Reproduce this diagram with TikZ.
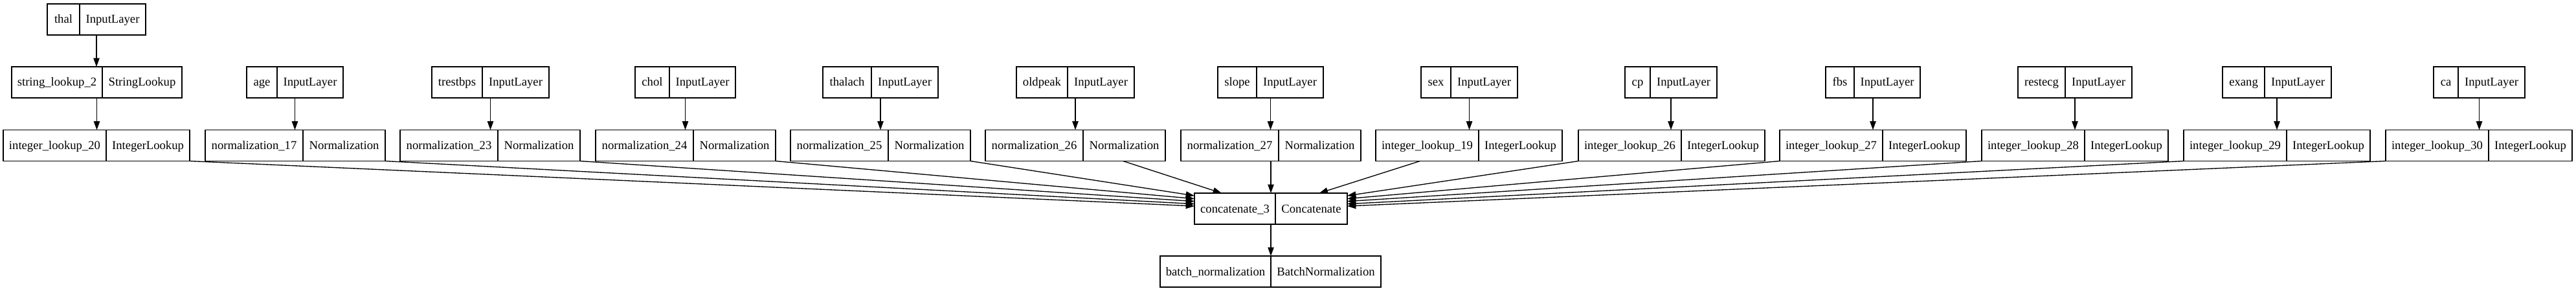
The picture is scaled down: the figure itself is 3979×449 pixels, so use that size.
\documentclass[tikz,border=0pt]{standalone}
\usepackage{fontspec}
\setmainfont{Liberation Serif}
\usetikzlibrary{arrows.meta}
\tikzset{
  recbox/.style={draw=black, line width=1pt, minimum height=36pt, inner sep=0pt, outer sep=0pt},
  recline/.style={draw=black, line width=1pt},
  rectext/.style={inner sep=0pt, anchor=base, font=\fontsize{14pt}{16pt}\selectfont},
  arr/.style={-{Triangle[length=10pt,width=7pt]}, line width=1pt, draw=black},
}
\newcommand{\layerbox}[7]{%
  \pgfmathsetmacro\lbw{(#4-#2)*0.75}%
  \node[recbox, minimum width=\lbw pt] (#1) at ({(#2+#4)/2},#5) {};%
  \draw[recline] (#3,#5-24) -- (#3,#5+24);%
  \node[rectext] (#1-a) at ({(#2+#3)/2},#5+6) {#6};%
  \node[rectext] (#1-b) at ({(#3+#4)/2},#5+6) {#7};%
}
\begin{document}
\begin{tikzpicture}[x=0.75pt, y=-0.75pt]
\fill[white] (0,0) rectangle (3979,449);
\useasboundingbox (0,0) rectangle (3979,449);
% row 1
\layerbox{thal}{73}{123}{225}{30}{thal}{InputLayer}
% row 2
\layerbox{sl2}{18}{158}{281}{127}{string\_lookup\_2}{StringLookup}
\layerbox{age}{381}{428}{530}{127}{age}{InputLayer}
\layerbox{trestbps}{667}{745}{848}{127}{trestbps}{InputLayer}
\layerbox{chol}{981}{1034}{1136}{127}{chol}{InputLayer}
\layerbox{thalach}{1271}{1346}{1449}{127}{thalach}{InputLayer}
\layerbox{oldpeak}{1570}{1649}{1752}{127}{oldpeak}{InputLayer}
\layerbox{slope}{1881}{1941}{2044}{127}{slope}{InputLayer}
\layerbox{sex}{2195}{2241}{2344}{127}{sex}{InputLayer}
\layerbox{cp}{2510}{2549}{2652}{127}{cp}{InputLayer}
\layerbox{fbs}{2820}{2864}{2966}{127}{fbs}{InputLayer}
\layerbox{restecg}{3117}{3190}{3293}{127}{restecg}{InputLayer}
\layerbox{exang}{3433}{3498}{3601}{127}{exang}{InputLayer}
\layerbox{ca}{3759}{3797}{3900}{127}{ca}{InputLayer}
% row 3
\layerbox{il20}{5}{164}{293}{224.5}{integer\_lookup\_20}{IntegerLookup}
\layerbox{n17}{317}{468}{595}{224.5}{normalization\_17}{Normalization}
\layerbox{n23}{618}{769}{896}{224.5}{normalization\_23}{Normalization}
\layerbox{n24}{920}{1071}{1198}{224.5}{normalization\_24}{Normalization}
\layerbox{n25}{1221}{1372}{1499}{224.5}{normalization\_25}{Normalization}
\layerbox{n26}{1522}{1673}{1800}{224.5}{normalization\_26}{Normalization}
\layerbox{n27}{1824}{1975}{2102}{224.5}{normalization\_27}{Normalization}
\layerbox{il19}{2125}{2284}{2413}{224.5}{integer\_lookup\_19}{IntegerLookup}
\layerbox{il26}{2438}{2597}{2726}{224.5}{integer\_lookup\_26}{IntegerLookup}
\layerbox{il27}{2749}{2908}{3037}{224.5}{integer\_lookup\_27}{IntegerLookup}
\layerbox{il28}{3061}{3220}{3349}{224.5}{integer\_lookup\_28}{IntegerLookup}
\layerbox{il29}{3373}{3532}{3661}{224.5}{integer\_lookup\_29}{IntegerLookup}
\layerbox{il30}{3685}{3844}{3973}{224.5}{integer\_lookup\_30}{IntegerLookup}
% row 4, 5
\layerbox{cc}{1845}{1970}{2081}{322}{concatenate\_3}{Concatenate}
\layerbox{bn}{1792}{1963}{2133}{419}{batch\_normalization}{BatchNormalization}
% vertical edges
\draw[arr] (thal.south) -- (thal.south |- sl2.north);
\draw[arr] (sl2.south) -- (sl2.south |- il20.north);
\foreach \a/\b in {age/n17, trestbps/n23, chol/n24, thalach/n25, oldpeak/n26, slope/n27, sex/il19, cp/il26, fbs/il27, restecg/il28, exang/il29, ca/il30}
  \draw[arr] (\a.south) -- (\a.south |- \b.north);
\draw[arr] (cc.south) -- (cc.south |- bn.north);
% edges into concatenate
\draw[arr] (il20.south east) -- ([yshift=3pt]cc.west);
\draw[arr] (n17.south east) -- ([yshift=5.5pt]cc.west);
\draw[arr] (n23.south east) -- ([yshift=8.5pt]cc.west);
\draw[arr] (n24.south east) -- ([yshift=11.5pt]cc.west);
\draw[arr] (n25.south east) -- ([yshift=15pt]cc.west);
\draw[arr] (n26) -- ([xshift=-57pt]cc.north);
\draw[arr] (n27.south) -- (n27.south |- cc.north);
\draw[arr] (il19) -- ([xshift=56pt]cc.north);
\draw[arr] (il26.south west) -- ([yshift=15pt]cc.east);
\draw[arr] (il27.south west) -- ([yshift=11.5pt]cc.east);
\draw[arr] (il28.south west) -- ([yshift=8.5pt]cc.east);
\draw[arr] (il29.south west) -- ([yshift=5.5pt]cc.east);
\draw[arr] (il30.south west) -- ([yshift=3pt]cc.east);
\end{tikzpicture}
\end{document}
